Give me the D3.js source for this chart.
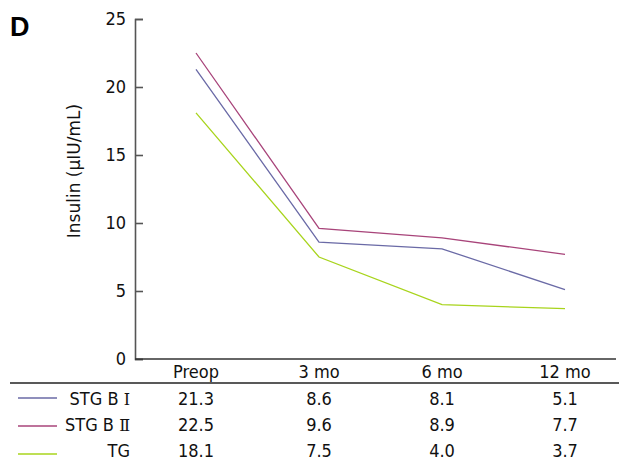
<!DOCTYPE html>
<html><head><meta charset="utf-8">
<script src="https://cdn.jsdelivr.net/npm/d3@7"></script>
<style>body{margin:0;background:#fff}svg{display:block;font-family:"DejaVu Sans Condensed","DejaVu Sans",sans-serif;font-stretch:condensed}</style>
</head><body><svg id="c" width="619" height="460"></svg>
<script>
const categories = ["Preop", "3 mo", "6 mo", "12 mo"];
const seriesBase = ["STG B ", "STG B ", "TG"];
const seriesNumeral = ["\u2160", "\u2161", ""];
const stgB1 = [21.3, 8.6, 8.1, 5.1];
const stgB2 = [22.5, 9.6, 8.9, 7.7];
const tg = [18.1, 7.5, 4.0, 3.7];
const yTicks = [0, 5, 10, 15, 20, 25];
const colors = ["#6a6aa6", "#a8447a", "#a8d41c"];

const FONT = "DejaVu Sans Condensed, DejaVu Sans, sans-serif";
const svg = d3.select("#c");
const series = [stgB1, stgB2, tg];
const x = d3.scalePoint().domain(categories).range([196, 565]);
const y = d3.scaleLinear().domain([0, 25]).range([359, 19]);

// y axis
const ya = svg.append("g").attr("transform", "translate(135,0)")
  .call(d3.axisLeft(y).tickValues(yTicks).tickSizeInner(-8).tickSizeOuter(-8).tickPadding(10));
ya.select(".domain").attr("stroke", "#555").attr("stroke-width", 1.6);
ya.selectAll(".tick line").attr("stroke", "#555").attr("stroke-width", 1.6);
ya.selectAll(".tick text").attr("font-size", 18).attr("fill", "#111")
  .attr("font-family", FONT).attr("x", -9).attr("dy", "0.3em");

// x axis baseline
svg.append("line").attr("x1", 135).attr("x2", 616).attr("y1", y(0)).attr("y2", y(0))
  .attr("stroke", "#333").attr("stroke-width", 1.6);

// y label
svg.append("text").attr("transform", "translate(80,171) rotate(-90)")
  .attr("text-anchor", "middle").attr("font-size", 17).attr("fill", "#111")
  .attr("font-family", "DejaVu Sans").style("font-stretch", "normal")
  .text("Insulin (\u03bcIU/mL)");

// panel letter
svg.append("text").attr("x", 10).attr("y", 36).attr("font-size", 27)
  .attr("font-weight", "bold").attr("font-family", "Liberation Sans, Arial, sans-serif")
  .style("font-stretch", "normal").text("D");

// lines
const line = d3.line().x((d, i) => x(categories[i])).y(d => y(d));
series.forEach((s, k) => {
  svg.append("path").datum(s).attr("d", line).attr("fill", "none")
    .attr("stroke", colors[k]).attr("stroke-width", 1.3);
});

// table
svg.append("line").attr("x1", 10).attr("x2", 619).attr("y1", 383).attr("y2", 383)
  .attr("stroke", "#222").attr("stroke-width", 1.3);
categories.forEach(c => {
  svg.append("text").attr("x", x(c)).attr("y", 378).attr("text-anchor", "middle")
    .attr("font-size", 18).attr("fill", "#111").text(c);
});
const lineY = [398, 426, 454];
const textY = [405, 431, 457];
series.forEach((s, k) => {
  svg.append("line").attr("x1", 18).attr("x2", 57).attr("y1", lineY[k]).attr("y2", lineY[k])
    .attr("stroke", colors[k]).attr("stroke-width", 1.6);
  const t = svg.append("text").attr("x", 130).attr("y", textY[k]).attr("text-anchor", "end")
    .attr("font-size", 18).attr("fill", "#111");
  t.append("tspan").text(seriesBase[k]);
  if (seriesNumeral[k]) t.append("tspan").attr("font-family", "DejaVu Serif").attr("font-size", 16)
    .style("font-stretch", "normal").text(seriesNumeral[k]);
  s.forEach((v, i) => {
    svg.append("text").attr("x", x(categories[i])).attr("y", textY[k]).attr("text-anchor", "middle")
      .attr("font-size", 18).attr("fill", "#111").text(v.toFixed(1));
  });
});
</script></body></html>
